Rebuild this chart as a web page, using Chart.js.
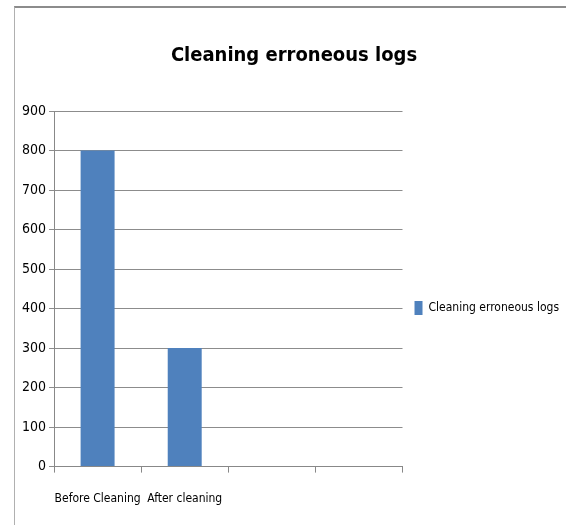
<!DOCTYPE html>
<html>
<head>
<meta charset="utf-8">
<script src="https://cdn.jsdelivr.net/npm/chart.js@4/dist/chart.umd.min.js"></script>
<style>
  html, body { margin: 0; padding: 0; background: #fff; }
  #wrap { position: relative; width: 566px; height: 525px; overflow: hidden; }
  #frame { position: absolute; left: 14px; top: 6px; width: 560px; height: 530px;
           border-top: 2px solid #8c8c8c; border-left: 1px solid #b0b0b0; pointer-events: none; }
  canvas { position: absolute; left: 0; top: 0; }
</style>
</head>
<body>
<div id="wrap">
  <canvas id="c" width="566" height="525"></canvas>
  <div id="frame"></div>
</div>
<script>
const categories = ["Before Cleaning", "After cleaning", "", ""];
const seriesName = "Cleaning erroneous logs";
const values = [800, 300, null, null];
const yTicks = [0, 100, 200, 300, 400, 500, 600, 700, 800, 900];

const FONT = "'Liberation Sans Narrow', 'DejaVu Sans Condensed', 'Liberation Sans', sans-serif";

new Chart(document.getElementById('c'), {
  type: 'bar',
  data: {
    labels: categories,
    datasets: [{
      label: seriesName,
      data: values,
      backgroundColor: '#4f81bd',
      borderWidth: 0,
      categoryPercentage: 1.0,
      barPercentage: 0.39
    }]
  },
  options: {
    responsive: false,
    animation: false,
    devicePixelRatio: 1,
    layout: { padding: { left: 19, right: -3, top: 28, bottom: 0 } },
    plugins: {
      title: {
        display: true,
        text: seriesName,
        color: '#000',
        font: { family: FONT, size: 20, weight: 'bold' },
        padding: { top: 16, bottom: 43 }
      },
      legend: {
        position: 'right',
        maxWidth: 175,
        title: { display: true, text: ' ', font: { size: 30 }, padding: { top: 27, bottom: 0 } },
        labels: {
          boxWidth: 8, boxHeight: 14, padding: 12,
          color: '#000',
          font: { family: FONT, size: 12 }
        }
      },
      tooltip: { enabled: false }
    },
    scales: {
      x: {
        grid: { offset: true, drawOnChartArea: false, drawTicks: true, tickLength: 6, color: '#888' },
        border: { color: '#888', width: 1 },
        ticks: { color: '#000', font: { family: FONT, size: 12 }, padding: 19, maxRotation: 0, autoSkip: false }
      },
      y: {
        min: 0, max: 900,
        afterBuildTicks: (s) => { s.ticks = yTicks.map(v => ({ value: v })); },
        grid: { color: '#8c8c8c', lineWidth: 1, drawTicks: true, tickLength: 5 },
        border: { color: '#888', width: 1 },
        ticks: { color: '#000', font: { family: FONT, size: 14 }, padding: 3 }
      }
    }
  }
});
</script>
</body>
</html>
